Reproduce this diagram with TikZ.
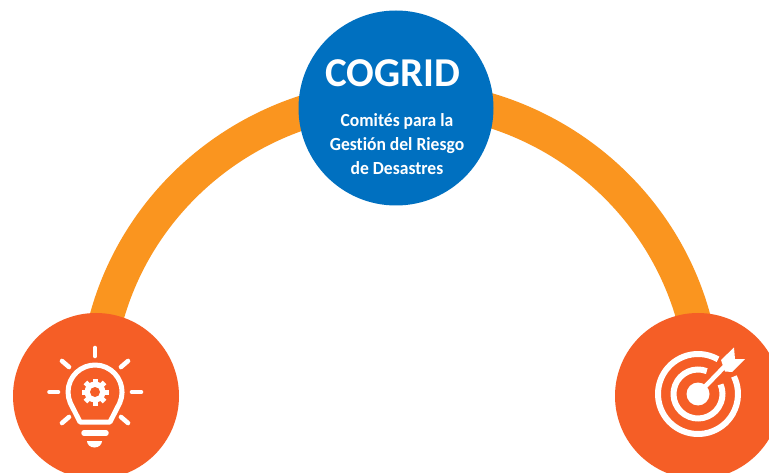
\documentclass[tikz,border=0pt]{standalone}
\usepackage{fontspec}
\setmainfont[RawFeature={-liga;-clig}]{Carlito}
\newfontfamily\subfont[RawFeature={-liga;-clig},FakeStretch=0.95]{Carlito}
\usetikzlibrary{backgrounds}
\definecolor{cblue}{HTML}{0070C0}
\definecolor{corange}{HTML}{F55E26}
\definecolor{carc}{HTML}{FA951F}
\tikzset{
  hub/.style={circle,fill=cblue,minimum size=195pt,inner sep=0pt,draw=none},
  endnode/.style={circle,fill=corange,minimum size=166pt,inner sep=0pt,draw=none},
  band/.style={draw=carc,line width=34pt},
  ico/.style={draw=white,line width=4.6pt,line cap=round,line join=round},
  icofill/.style={fill=white,draw=none},
  titletext/.style={text=white,font=\bfseries\fontsize{41}{41}\selectfont,anchor=base,inner sep=0pt},
  subtext/.style={text=white,font=\subfont\bfseries\fontsize{18.5}{19}\selectfont,anchor=base,inner sep=0pt}
}
\begin{document}
\begin{tikzpicture}[x=1pt,y=-1pt]
\useasboundingbox (0,0) rectangle (769,473);
\begin{scope}
\clip (0,0) rectangle (769,473);
\node[hub] (hub) at (396,108) {};
\node[endnode] (lft) at (96,396) {};
\node[endnode] (rgt) at (698,396) {};
\begin{scope}[on background layer]
\fill[white] (0,0) rectangle (769,473);
\draw[band] (lft.center) arc[start angle=180,end angle=360,x radius=304,y radius=299];
\end{scope}
% bulb icon
\draw[ico] (49.5,392) -- (58,392);
\draw[ico] (132,392) -- (141,392);
\draw[ico] (95,348) -- (95,356);
\draw[ico] (62,361) -- (69,367);
\draw[ico] (128,361) -- (121,367);
\draw[ico] (62,423) -- (69,417);
\draw[ico] (128,423) -- (121,417);
\draw[ico,line width=5pt] (80,422) -- (110,422) -- (119.7,403) arc[start angle=24,end angle=-204,radius=27] -- cycle;
\draw[ico,line width=5.5pt] (84,433) -- (106,433);
\fill[icofill] (102,441) arc[start angle=0,end angle=180,x radius=7.5,y radius=6.5] -- cycle;
\foreach \a in {0,45,...,315}{
  \draw[white,line width=5pt] (95,392) ++(\a:8) -- ++(\a:5.5);
}
\fill[white] (95,392) circle[radius=10.5];
\fill[corange] (95,392) circle[radius=5];
% target icon
\draw[draw=white,line width=6pt] (698,394) ++(-60:40) arc[start angle=-60,end angle=-386,radius=40];
\draw[draw=white,line width=6pt] (698,394) ++(-69:24.5) arc[start angle=-69,end angle=-383,radius=24.5];
\fill[white] (698,394) circle[radius=11.5];
\draw[white,line width=4.6pt] (698,394) -- (727,364);
\fill[icofill] (721,360) -- (734,347.5) -- (735,359) -- (745,359) -- (732,372) -- (725,371.5) -- cycle;
% text
\node[titletext] (title) at (393,87) {COGRID};
\node[subtext] (l1) at (397,127) {Comités para la};
\node[subtext] (l2) at (397,150.5) {Gestión del Riesgo};
\node[subtext] (l3) at (397,175) {de Desastres};
\end{scope}
\end{tikzpicture}
\end{document}
